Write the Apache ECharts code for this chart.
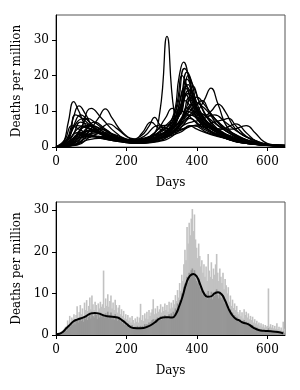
<!DOCTYPE html>
<html><head><meta charset="utf-8">
<script src="https://cdn.jsdelivr.net/npm/echarts@6/dist/echarts.min.js"></script>
<style>html,body{margin:0;padding:0;background:#fff}#c{width:300px;height:390px}</style>
</head><body><div id="c"></div>
<script>
// Top panel: one curve per country, [day, deaths per million]
const curves = [
[[0,0],[25,0.3],[55,3],[90,4.5],[130,3.5],[180,2],[230,1.2],[270,2.5],[295,10],[315,31],[335,10],[355,5],[390,6],[430,4],[480,2.5],[540,1],[600,0.5],[650,0.4]],
[[0,0],[20,1],[35,7],[50,12.7],[65,10],[85,6],[120,4],[170,2.5],[220,1.5],[270,3],[320,5],[355,12],[378,16],[405,10],[450,5],[500,3],[560,1],[650,0.3]],
[[0,0],[30,2],[50,8.5],[65,11.5],[85,9],[110,5],[160,3],[210,1.5],[260,2.5],[300,5],[340,10],[365,22],[385,18],[410,9],[460,5],[520,2],[580,0.8],[650,0.3]],
[[0,0],[40,0.5],[70,5],[100,10.8],[130,8],[170,4],[210,2],[250,2.5],[290,4],[330,8],[350,20],[362,23.8],[380,18],[400,10],[440,5],[500,2.5],[560,1],[650,0.3]],
[[0,0],[50,0.5],[90,4],[120,8],[140,10.7],[160,8],[190,4],[230,2],[270,3],[310,4],[350,9],[375,15],[400,11],[440,6],[490,3],[550,1.2],[650,0.3]],
[[0,0],[30,2],[60,7],[80,8],[110,5],[150,3],[200,2],[240,3],[265,6],[280,8.3],[300,6],[330,7],[370,17],[390,13],[420,7],[470,4],[530,1.5],[650,0.3]],
[[0,0],[40,1],[70,5],[100,6],[140,4],[190,2],[240,2],[280,4],[310,8],[330,10.8],[350,9],[375,20],[395,12],[430,6],[490,3],[550,1],[650,0.3]],
[[0,0],[45,1],[80,4],[110,5],[150,3.5],[200,2],[250,1.5],[290,3],[330,6],[355,14],[372,21],[390,17],[410,12],[440,7],[490,3],[550,1],[650,0.3]],
[[0,0],[40,0.5],[80,3],[120,4],[160,3],[210,1.5],[260,1.5],[300,3],[340,5],[370,8],[400,10],[420,13],[440,16.5],[460,12],[490,5],[540,2],[600,0.6],[650,0.4]],
[[0,0],[30,1.5],[60,6],[90,5.5],[130,3.5],[180,2],[230,1.2],[280,2],[320,4],[360,8],[385,12],[400,14],[420,12],[450,8],[490,4],[550,1.5],[650,0.3]],
[[0,0],[50,1],[90,4],[130,5],[170,3],[220,1.5],[270,2],[310,3],[350,6],[380,9],[410,8],[440,10],[460,12],[480,10],[510,5],[560,2],[620,0.6],[650,0.5]],
[[0,0],[40,1],[70,4],[100,4.5],[140,3],[190,1.5],[240,1.5],[290,3],[340,5],[375,10],[410,7],[460,5],[500,5],[540,6],[565,4],[590,1.5],[620,0.6],[650,0.5]],
[[0,0],[35,2],[55,9],[75,8],[110,5],[150,3],[200,1.5],[250,2],[290,3.5],[330,5],[355,12],[368,16.5],[385,13],[420,7],[470,4],[530,1.5],[650,0.3]],
[[0,0],[60,0.5],[100,3],[140,4],[180,3],[230,1.5],[280,2],[320,4],[350,9],[375,17.5],[395,13],[420,11],[450,8],[500,4],[560,1.5],[650,0.4]],
[[0,0],[30,1],[60,3],[90,3.5],[130,2.5],[180,1.5],[230,1],[280,1.5],[320,3],[355,7],[380,14],[400,11],[430,7],[480,3],[540,1],[650,0.3]],
[[0,0],[45,3],[70,7],[95,6],[130,4],[180,2.5],[230,2],[270,3],[310,5],[345,9],[365,13],[390,10],[420,6],[470,3],[530,1.5],[650,0.4]],
[[0,0],[50,0.5],[85,2.5],[120,3],[160,2.5],[210,1.2],[260,1.5],[300,2.5],[340,5],[365,9],[385,12],[405,9],[430,9],[460,6],[510,3],[570,1],[650,0.3]],
[[0,0],[30,2],[50,6],[70,9],[95,7],[130,4],[180,2],[230,1.5],[280,2.5],[320,5],[345,8],[360,10],[385,8],[420,5],[480,2.5],[540,1],[650,0.3]],
[[0,0],[50,0.5],[80,4],[110,7],[140,5],[180,2.5],[220,1.5],[270,2],[310,3],[350,4.5],[390,6],[430,6.5],[470,7.5],[490,8],[510,6],[540,3],[580,1],[650,0.4]],
[[0,0],[60,1],[100,4],[130,5.5],[150,6.5],[175,5],[210,2.5],[250,2],[290,3],[330,5],[355,8],[372,11],[395,9],[430,5],[480,2.5],[540,1],[650,0.3]],
[[0,0],[25,2],[45,6],[65,5],[95,3.5],[140,2.5],[190,1.5],[240,1],[290,1.5],[330,3],[360,6],[380,8],[410,6],[450,4],[510,2],[580,0.7],[650,0.3]],
[[0,0],[40,1],[65,4],[80,5.5],[105,4.5],[150,3],[200,1.5],[250,1.5],[300,2.5],[350,4],[390,6],[430,5.5],[470,5],[510,6.5],[540,4],[570,1.5],[610,0.5],[650,0.4]],
[[0,0],[35,1.5],[60,5],[90,6],[130,4],[180,2],[230,1.5],[270,2.5],[305,4],[330,7],[345,13],[358,20],[372,17],[395,9],[430,5],[480,2.5],[540,1],[650,0.3]],
[[0,0],[40,1],[80,3],[120,3],[170,2],[215,1.5],[245,4],[270,7],[295,5],[330,4.5],[360,5],[378,6],[400,5],[440,3.5],[500,2],[560,0.8],[650,0.3]],
[[0,0],[35,1],[65,3.5],[100,3],[150,2],[200,1.5],[250,3],[290,6],[320,5],[350,7],[380,10],[400,12],[415,13],[435,10],[470,6],[520,3],[580,1],[650,0.3]],
[[0,0],[40,1],[70,5],[90,8],[115,6.5],[150,4],[200,2],[245,1.5],[285,2.5],[320,4],[350,10],[372,19],[390,15],[415,9],[450,5],[500,2.5],[560,1],[650,0.3]],
[[0,0],[30,1],[60,4],[90,3.5],[130,2.5],[180,1.5],[230,1],[280,2],[320,4],[350,9],[366,15],[385,12],[415,7],[460,4],[520,1.5],[650,0.3]],
[[0,0],[50,0.5],[90,2],[130,2.5],[180,2],[230,1],[280,1.5],[320,3],[360,6],[385,7],[410,7.5],[450,9],[480,7],[520,4],[560,2],[610,0.6],[650,0.4]],
[[0,0],[45,1],[75,4],[100,6],[130,5],[170,3],[220,1.5],[260,1.5],[300,2.5],[340,5],[370,11],[390,17],[405,13],[430,8],[470,4],[530,1.5],[650,0.3]],
[[0,0],[30,0.5],[60,2.5],[100,3],[150,2.5],[200,1.5],[245,2],[280,4],[300,5.5],[330,5],[365,7],[395,10],[420,9],[460,6],[500,3.5],[550,1.5],[610,0.5],[650,0.4]]
];

// Bottom panel: daily values sampled every 3 days
const barStep = 3;
const barsLight = [
0.2,0.3,0.2,0.5,0.4,0.8,0.6,1.2,1.5,
2.0,1.8,3.5,2.5,4.6,3.0,4.2,3.8,
5.0,3.6,4.8,6.9,4.2,5.5,7.2,5.0,6.4,4.6,7.8,6.0,8.4,5.8,
7.0,9.0,6.2,9.5,7.4,6.0,8.0,
7.2,5.6,7.6,6.4,8.0,6.8,7.4,
15.5,
6.5,8.8,7.0,9.8,6.8,8.2,9.5,6.4,7.8,6.0,8.5,
7.2,5.4,6.6,7.2,5.0,6.2,4.6,5.8,4.0,5.0,
3.8,4.8,3.4,4.2,3.0,4.6,3.6,2.8,4.0,3.2,4.4,3.0,
4.2,7.5,
3.6,4.8,3.4,5.2,4.0,5.6,3.8,6.0,4.6,5.4,6.2,
8.6,
5.0,6.4,5.2,7.0,5.6,6.2,7.4,5.4,6.8,5.8,7.6,6.0,7.2,5.6,8.0,6.4,7.8,6.6,8.4,
7.4,9.6,8.2,10.8,9.0,
12.5,10.6,14.5,13.0,17.0,20.5,18.0,
26.0,22.0,27.0,24.0,28.0,30.3,25.0,29.0,23.0,
21.0,18.5,22.0,19.0,16.5,18.0,
15.0,17.0,14.0,16.5,13.0,19.5,15.5,14.0,17.5,13.5,16.0,14.5,17.0,19.5,15.0,13.0,16.0,14.0,
12.5,15.0,11.0,13.5,12.0,10.0,11.5,
8.0,9.5,7.0,8.5,6.5,7.6,6.0,7.0,5.5,
5.0,6.0,4.5,5.5,4.0,6.2,4.8,5.6,4.2,5.2,3.8,4.6,
3.6,4.4,3.0,3.8,2.8,3.4,2.5,3.0,2.2,2.8,2.0,2.6,1.8,2.4,2.0,2.2,
11.2,
2.0,2.6,1.8,2.4,1.6,2.2,1.5,2.8,1.4,2.0,1.2,1.8,1.0,3.2,1.5
];
const barsDark = [
0.1,0.2,0.1,0.3,0.2,0.5,0.4,0.7,0.9,
1.2,1.0,2.0,1.6,2.6,2.0,2.8,2.4,
3.2,2.6,3.4,3.8,3.0,3.6,4.2,3.4,4.0,3.2,4.6,3.8,4.8,3.6,
4.4,5.4,4.0,5.6,4.6,4.2,5.2,
4.8,3.8,5.0,4.2,5.4,4.4,4.8,
5.0,
4.2,5.2,4.4,5.6,4.0,4.8,5.4,3.8,4.6,3.6,5.0,
4.4,3.4,4.0,4.4,3.2,3.8,2.8,3.4,2.4,2.8,
2.2,2.8,1.8,2.2,1.6,2.4,1.8,1.4,2.0,1.6,2.2,1.5,
2.0,2.2,
1.8,2.2,1.6,2.6,2.0,2.6,2.2,3.0,2.6,3.2,3.6,
3.8,
3.2,3.8,3.4,4.2,3.6,4.0,4.6,3.6,4.4,3.8,4.8,4.0,4.6,3.8,5.0,4.2,5.2,4.4,5.6,
5.2,6.4,6.0,7.6,7.0,
8.4,8.0,10.0,9.4,11.6,12.4,12.0,
14.0,12.6,15.0,13.8,15.6,16.0,14.4,15.6,13.6,
13.0,12.4,13.6,11.6,10.6,11.0,
9.6,10.4,9.0,10.0,8.6,10.6,9.4,8.8,10.4,8.6,10.2,9.4,10.6,11.0,9.6,8.8,10.2,9.0,
8.4,9.6,7.6,8.6,7.4,6.4,7.0,
5.4,6.2,4.6,5.4,4.2,4.8,3.8,4.4,3.4,
3.2,3.8,2.8,3.4,2.6,3.6,2.8,3.2,2.4,3.0,2.2,2.6,
2.0,2.4,1.6,2.0,1.4,1.8,1.2,1.5,1.0,1.4,0.9,1.2,0.8,1.1,0.9,1.0,
1.6,
0.9,1.1,0.8,1.0,0.7,0.9,0.7,1.0,0.6,0.8,0.5,0.7,0.4,0.9,0.5
];
const smoothDays = [0,10,20,30,40,50,60,80,100,110,120,140,160,175,190,200,210,220,240,260,280,295,310,330,340,350,360,370,380,390,400,410,420,430,440,450,460,470,480,490,500,510,520,530,545,560,575,590,610,630,645];
const smoothVals = [0.2,0.3,0.8,1.7,2.5,3.3,3.7,4.3,5.2,5.3,5.2,4.6,4.4,4.2,3.4,2.7,2.0,1.7,1.6,2.0,3.0,4.0,4.3,4.2,5.0,7.0,9.5,12.5,14.2,14.7,14.0,12.0,10.0,9.2,9.3,10.0,10.3,9.8,8.3,6.3,4.8,3.9,3.5,3.0,2.6,1.8,1.2,1.0,0.9,0.7,0.4];

const xTicks = [0,200,400,600];
const yTicks = [0,10,20,30];
const xMax = 650, yMaxTop = 37, yMaxBottom = 32;

const font = 'DejaVu Serif';
const chart = echarts.init(document.getElementById('c'), null, {renderer:'canvas'});
function xAxis(idx){
  return {gridIndex:idx,type:'value',min:0,max:xMax,name:'Days',nameLocation:'middle',nameGap:30,
    nameTextStyle:{fontFamily:font,fontSize:12,color:'#000'},
    axisLine:{show:true,lineStyle:{color:'#000',width:1}},
    axisTick:{show:true,length:4,customValues:xTicks,lineStyle:{color:'#000'}},
    axisLabel:{customValues:xTicks,fontFamily:font,fontSize:12,color:'#000',margin:9},
    splitLine:{show:false}};
}
function yAxis(idx,max){
  return {gridIndex:idx,type:'value',min:0,max:max,name:'Deaths per million',nameLocation:'middle',nameGap:33,
    nameTextStyle:{fontFamily:font,fontSize:12,color:'#000'},
    axisLine:{show:true,lineStyle:{color:'#000',width:1}},
    axisTick:{show:true,length:4,customValues:yTicks,lineStyle:{color:'#000'}},
    axisLabel:{customValues:yTicks,fontFamily:font,fontSize:12,color:'#000',margin:7},
    splitLine:{show:false}};
}
const series = curves.map(c => ({type:'line',xAxisIndex:0,yAxisIndex:0,data:c,smooth:0.5,showSymbol:false,
  lineStyle:{color:'#000',width:1.3},silent:true,animation:false}));
series.push({type:'bar',xAxisIndex:1,yAxisIndex:1,data:barsLight.map((v,i)=>[i*barStep,v]),barWidth:1.6,
  itemStyle:{color:'#c2c2c2'},animation:false,barGap:'-100%'});
series.push({type:'bar',xAxisIndex:1,yAxisIndex:1,data:barsDark.map((v,i)=>[i*barStep,v]),barWidth:1.6,
  itemStyle:{color:'#969696'},animation:false,barGap:'-100%'});
series.push({type:'line',xAxisIndex:1,yAxisIndex:1,data:smoothDays.map((d,i)=>[d,smoothVals[i]]),smooth:0.5,
  showSymbol:false,lineStyle:{color:'#000',width:2},animation:false,z:5});

chart.setOption({
  animation:false,
  grid:[
    {left:56,top:15,width:229,height:132,show:true,borderColor:'#555',borderWidth:1,backgroundColor:'transparent'},
    {left:56,top:202,width:229,height:133,show:true,borderColor:'#555',borderWidth:1,backgroundColor:'transparent'}
  ],
  xAxis:[xAxis(0),xAxis(1)],
  yAxis:[yAxis(0,yMaxTop),yAxis(1,yMaxBottom)],
  series:series
});
</script></body></html>
